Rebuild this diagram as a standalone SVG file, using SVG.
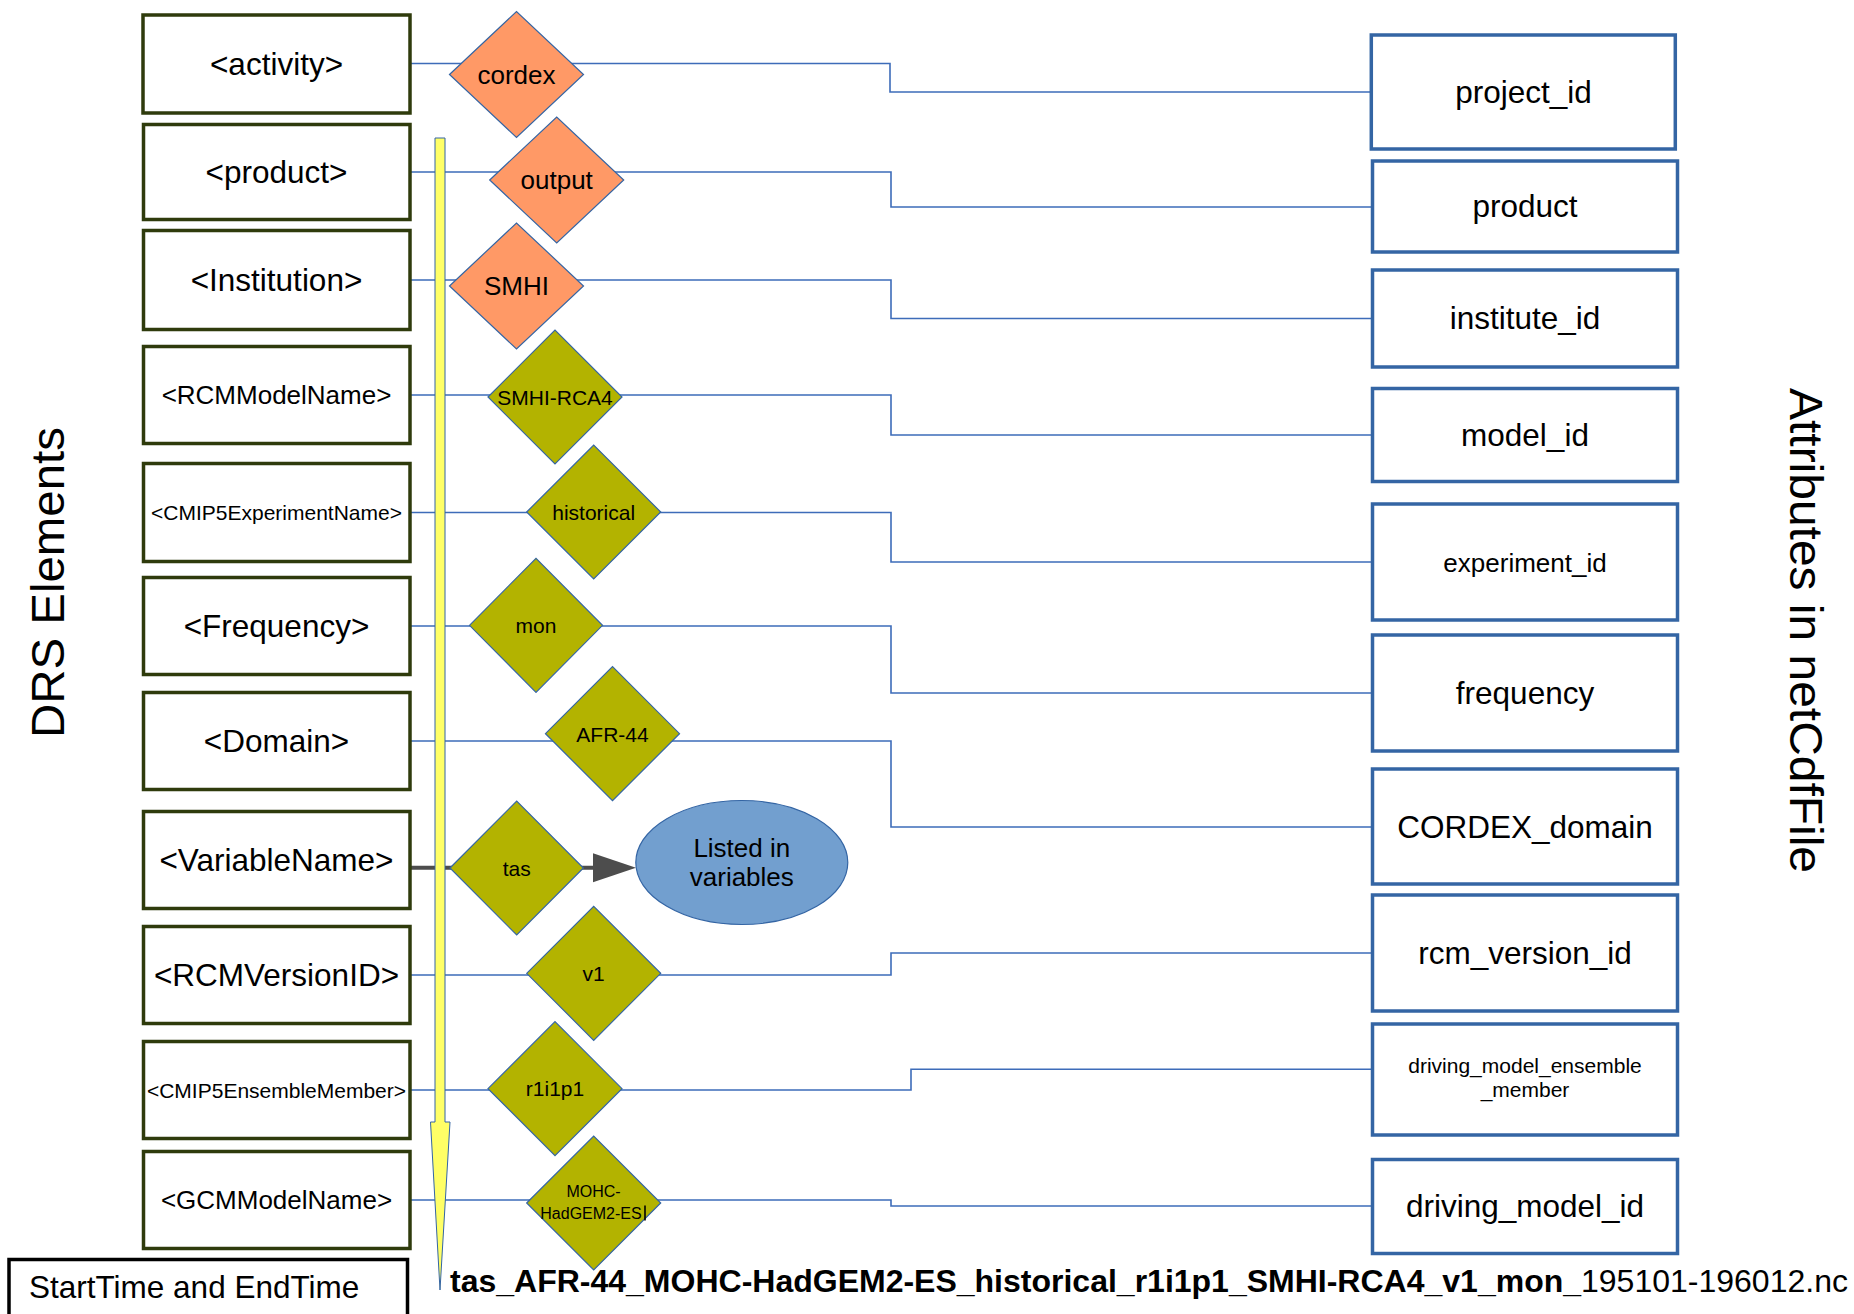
<svg xmlns="http://www.w3.org/2000/svg" width="1854" height="1314" viewBox="0 0 1854 1314">
<defs>
<style>
text{font-family:"Liberation Sans",Arial,sans-serif;fill:#000;}
.lb{fill:#fff;stroke:#2f3b0c;stroke-width:3.5;}
.rb{fill:#fff;stroke:#3465a4;stroke-width:3.5;}
.or{fill:#ff9966;stroke:#3465a4;stroke-width:1.2;}
.ol{fill:#b3b300;stroke:#3465a4;stroke-width:1.2;}
.con{fill:none;stroke:#3d6cb9;stroke-width:1.6;}
.c{text-anchor:middle;}
.f31{font-size:31.5px;}
.f26{font-size:26px;}
.f21{font-size:21px;}
.f16{font-size:16px;}
</style>
<marker id="ah" markerUnits="userSpaceOnUse" markerWidth="44" markerHeight="30" refX="7" refY="14.5" orient="auto">
<path d="M0,0 L43,14.5 L0,29 z" fill="#4d4d4d"/>
</marker>
</defs>
<rect width="1854" height="1314" fill="#fff"/>

<g id="connectors">
<polyline class="con" points="411,63.5 890,63.5 890,92 1371,92"/>
<polyline class="con" points="411,172 891,172 891,207 1371,207"/>
<polyline class="con" points="411,280 891,280 891,318.5 1371,318.5"/>
<polyline class="con" points="411,395 891,395 891,435 1371,435"/>
<polyline class="con" points="411,512.5 891,512.5 891,562 1371,562"/>
<polyline class="con" points="411,626 891,626 891,693 1371,693"/>
<polyline class="con" points="411,741 891,741 891,827 1371,827"/>
<polyline class="con" points="411,975 891,975 891,953 1371,953"/>
<polyline class="con" points="411,1090 911,1090 911,1069.3 1371,1069.3"/>
<polyline class="con" points="411,1200 891,1200 891,1206 1371,1206"/>
<line x1="411" y1="867.7" x2="600" y2="867.7" stroke="#4d4d4d" stroke-width="4" marker-end="url(#ah)"/>
</g>

<g id="time-arrow">
<polygon points="435,138 445,138 445,1122 450,1122 440,1290 430.5,1122 435,1122" fill="#ffff66" stroke="#3465a4" stroke-width="1"/>
</g>

<g id="drs-label">
<text class="c" transform="translate(63.5,582.5) rotate(-90)" font-size="47" textLength="311" lengthAdjust="spacingAndGlyphs">DRS Elements</text>
</g>
<g id="attr-label">
<text class="c" transform="translate(1790,630.5) rotate(90)" font-size="47" textLength="485" lengthAdjust="spacingAndGlyphs">Attributes in netCdfFile</text>
</g>

<g id="box-activity"><rect class="lb" x="143" y="15" width="267" height="98"/><text class="c f31" x="276.5" y="75">&lt;activity&gt;</text></g>
<g id="box-product"><rect class="lb" x="143.5" y="124.5" width="266.5" height="95"/><text class="c f31" x="276.5" y="183">&lt;product&gt;</text></g>
<g id="box-institution"><rect class="lb" x="143.5" y="230.5" width="266.5" height="99"/><text class="c f31" x="276.5" y="291">&lt;Institution&gt;</text></g>
<g id="box-rcmmodelname"><rect class="lb" x="143.5" y="346.5" width="266.5" height="97"/><text class="c f26" x="276.5" y="404.3">&lt;RCMModelName&gt;</text></g>
<g id="box-cmip5experimentname"><rect class="lb" x="143.5" y="463.5" width="266.5" height="98"/><text class="c f21" x="276.5" y="519.5">&lt;CMIP5ExperimentName&gt;</text></g>
<g id="box-frequency"><rect class="lb" x="143.5" y="577.5" width="266.5" height="97"/><text class="c f31" x="276.5" y="637">&lt;Frequency&gt;</text></g>
<g id="box-domain"><rect class="lb" x="143.5" y="692.5" width="266.5" height="97"/><text class="c f31" x="276.5" y="752">&lt;Domain&gt;</text></g>
<g id="box-variablename"><rect class="lb" x="143.5" y="811.5" width="266.5" height="97"/><text class="c f31" x="276.5" y="871">&lt;VariableName&gt;</text></g>
<g id="box-rcmversionid"><rect class="lb" x="143.5" y="926.5" width="266.5" height="97"/><text class="c f31" x="276.5" y="986">&lt;RCMVersionID&gt;</text></g>
<g id="box-cmip5ensemblemember"><rect class="lb" x="143.5" y="1041.5" width="266.5" height="97"/><text class="c f21" x="276.5" y="1097.5">&lt;CMIP5EnsembleMember&gt;</text></g>
<g id="box-gcmmodelname"><rect class="lb" x="143.5" y="1151.5" width="266.5" height="97"/><text class="c f26" x="276.5" y="1209">&lt;GCMModelName&gt;</text></g>
<g id="box-time"><rect x="9" y="1259.5" width="398.5" height="80" fill="#fff" stroke="#000" stroke-width="3.5"/><text class="f31" x="29" y="1298">StartTime and EndTime</text></g>

<g id="d-cordex"><polygon class="or" points="449.5,74.5 516.5,11.5 583.5,74.5 516.5,137.5"/><text class="c f26" x="516.5" y="83.5">cordex</text></g>
<g id="d-output"><polygon class="or" points="489.7,180 556.7,117 623.7,180 556.7,243"/><text class="c f26" x="556.7" y="189">output</text></g>
<g id="d-smhi"><polygon class="or" points="449.5,286 516.5,223 583.5,286 516.5,349"/><text class="c f26" x="516.5" y="295">SMHI</text></g>
<g id="d-smhi-rca4"><polygon class="ol" points="488,397 555,330 622,397 555,464"/><text class="c f21" x="555" y="404.5">SMHI-RCA4</text></g>
<g id="d-historical"><polygon class="ol" points="526.7,512 593.7,445 660.7,512 593.7,579"/><text class="c f21" x="593.7" y="519.5">historical</text></g>
<g id="d-mon"><polygon class="ol" points="469.5,625.3 536,558.3 602.5,625.3 536,692.3"/><text class="c f21" x="536" y="632.7">mon</text></g>
<g id="d-afr44"><polygon class="ol" points="545.5,733.7 612.5,666.7 679.5,733.7 612.5,800.7"/><text class="c f21" x="612.5" y="741.5">AFR-44</text></g>
<g id="d-tas"><polygon class="ol" points="450,868 516.7,801 583.4,868 516.7,935"/><text class="c f21" x="516.7" y="876">tas</text></g>
<g id="d-v1"><polygon class="ol" points="526.7,973.3 593.7,906.3 660.7,973.3 593.7,1040.3"/><text class="c f21" x="593.7" y="980.7">v1</text></g>
<g id="d-r1i1p1"><polygon class="ol" points="488,1088.7 555,1021.7 622,1088.7 555,1155.7"/><text class="c f21" x="555" y="1096">r1i1p1</text></g>
<g id="d-mohc"><polygon class="ol" points="526.7,1203 593.7,1136 660.7,1203 593.7,1270"/><text class="c f16" x="593.5" y="1196.7">MOHC-</text><text class="c f16" x="591" y="1219.3">HadGEM2-ES</text><line x1="645" y1="1205.5" x2="645" y2="1220.5" stroke="#000" stroke-width="1.6"/></g>

<g id="e-variables"><ellipse cx="741.8" cy="862.5" rx="106" ry="62" fill="#729fcf" stroke="#3465a4" stroke-width="1.2"/><text class="c f26" x="741.8" y="857.3">Listed in</text><text class="c f26" x="741.8" y="886">variables</text></g>

<g id="a-project_id"><rect class="rb" x="1371.3" y="35" width="304" height="114"/><text class="c f31" x="1523.5" y="103">project_id</text></g>
<g id="a-product"><rect class="rb" x="1372.5" y="161" width="305" height="91"/><text class="c f31" x="1525" y="217">product</text></g>
<g id="a-institute_id"><rect class="rb" x="1372.5" y="270" width="305" height="97"/><text class="c f31" x="1525" y="329">institute_id</text></g>
<g id="a-model_id"><rect class="rb" x="1372.5" y="388.5" width="305" height="93"/><text class="c f31" x="1525" y="446">model_id</text></g>
<g id="a-experiment_id"><rect class="rb" x="1372.5" y="504" width="305" height="116"/><text class="c f26" x="1525" y="571.5">experiment_id</text></g>
<g id="a-frequency"><rect class="rb" x="1372.5" y="635" width="305" height="116"/><text class="c f31" x="1525" y="704">frequency</text></g>
<g id="a-cordex_domain"><rect class="rb" x="1372.5" y="769" width="305" height="115"/><text class="c f31" x="1525" y="837.5">CORDEX_domain</text></g>
<g id="a-rcm_version_id"><rect class="rb" x="1372.5" y="895" width="305" height="116"/><text class="c f31" x="1525" y="964">rcm_version_id</text></g>
<g id="a-driving_model_ensemble_member"><rect class="rb" x="1372.5" y="1024" width="305" height="111"/><text class="c f21" x="1525" y="1073.3">driving_model_ensemble</text><text class="c f21" x="1525" y="1097.3">_member</text></g>
<g id="a-driving_model_id"><rect class="rb" x="1372.5" y="1159.5" width="305" height="94"/><text class="c f31" x="1525" y="1217">driving_model_id</text></g>

<g id="filename">
<text x="450" y="1292" font-size="32"><tspan font-weight="bold">tas_AFR-44_MOHC-HadGEM2-ES_historical_r1i1p1_SMHI-RCA4_v1_mon_</tspan><tspan>195101-196012.nc</tspan></text>
</g>
</svg>
